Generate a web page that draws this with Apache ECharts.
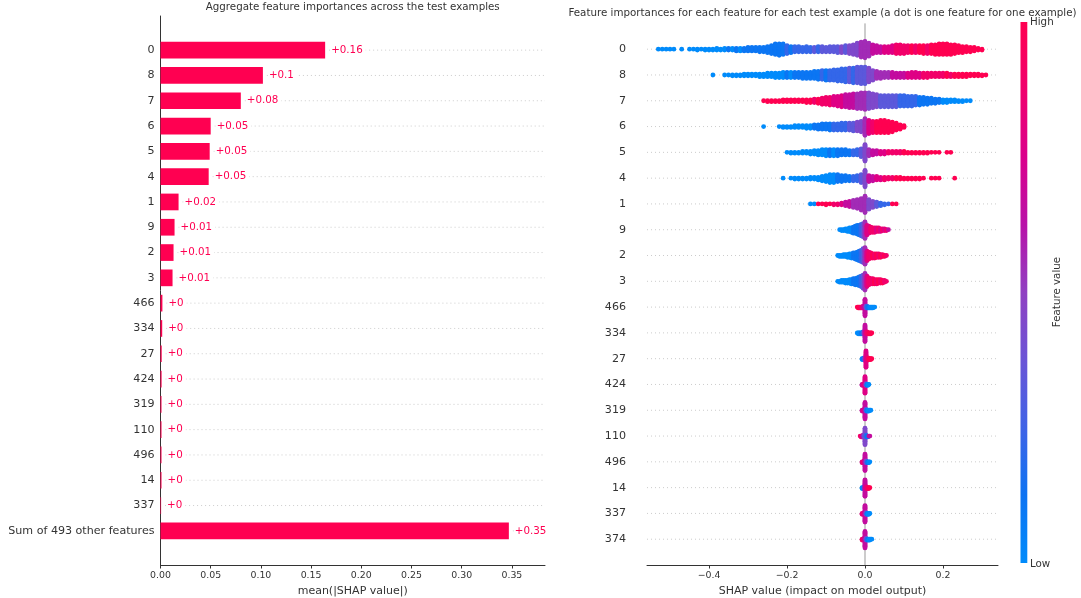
<!DOCTYPE html>
<html>
<head>
<meta charset="utf-8">
<script src="https://cdn.jsdelivr.net/npm/echarts@6/dist/echarts.min.js"></script>
<style>
  html, body { margin: 0; padding: 0; background: #fff; }
  #chart { width: 1081px; height: 598px; }
</style>
</head>
<body>
<div id="chart"></div>
<script>
// ---- left panel: mean(|SHAP value|) per feature ----
const barLabels = ['0', '8', '7', '6', '5', '4', '1', '9', '2', '3', '466', '334', '27', '424', '319', '110', '496', '14', '337', 'Sum of 493 other features'];
const barValues = [0.164, 0.102, 0.080, 0.050, 0.049, 0.048, 0.018, 0.014, 0.013, 0.012, 0.0019, 0.0017, 0.0012, 0.0011, 0.001, 0.001, 0.001, 0.001, 0.0006, 0.347];
const barTicks = [0, 0.05, 0.10, 0.15, 0.20, 0.25, 0.30, 0.35];

// ---- right panel: beeswarm, one row per feature ----
const swarmFeatures = ['0', '8', '7', '6', '5', '4', '1', '9', '2', '3', '466', '334', '27', '424', '319', '110', '496', '14', '337', '374'];
const swarmTicks = [-0.4, -0.2, 0, 0.2];
// SHAP value of the first bin and bin width, per row
const swarmStart = [-0.53, -0.39, -0.26, -0.26, -0.20, -0.21, -0.14, -0.065, -0.07, -0.07, -0.02, -0.02, -0.0075, -0.0075, -0.0075, -0.0125, -0.0075, -0.0075, -0.0075, -0.0075];
const swarmStep = [0.01, 0.01, 0.01, 0.01, 0.01, 0.01, 0.01, 0.005, 0.005, 0.005, 0.0025, 0.0025, 0.0025, 0.0025, 0.0025, 0.0025, 0.0025, 0.0025, 0.0025, 0.0025];

// dots per bin / feature value per bin (0 = low ... 9 = high)
const counts_0 = [1,1,1,1,1,0,1,0,1,1, 2,1,2,2,2,3,2,3,3,3, 4,4,4,5,5,5,6,6,8,10, 13,14,13,10,8,7,7,6,7,6, 6,7,7,6,7,7,8,8,9,10, 12,15,18,20,16,11,9,8,8,8, 9,11,11,10,9,9,9,9,10,10, 11,12,13,13,13,12,11,9,8,7, 6,5,3,2];
const colors_0 = [0,0,0,0,0,0,0,0,0,0, 0,0,0,0,0,0,0,0,1,0, 1,0,1,1,1,1,1,1,1,1, 1,1,1,2,1,2,2,2,2,2, 3,2,3,3,3,3,3,4,3,4, 4,4,5,5,5,6,6,6,7,7, 7,8,8,8,8,9,8,9,9,8, 9,9,9,9,9,9,9,9,9,9, 9,9,9,9];
const counts_8 = [1,0,0,1,1,2,2,2,3,3, 3,3,4,4,5,5,6,6,7,7, 7,7,7,8,8,8,9,10,11,12, 12,13,14,15,16,17,18,19,20,20, 17,12,9,8,7,7,7,6,6,6, 6,7,7,6,6,6,5,5,5,5, 5,4,4,4,4,4,3,3,3,2, 1];
const colors_8 = [0,0,0,0,0,0,0,0,0,0, 0,0,0,0,0,0,0,0,0,1, 0,1,1,1,1,1,1,1,2,1, 2,2,2,2,2,3,2,3,3,3, 4,4,5,5,5,5,6,6,6,6, 7,7,7,7,8,8,8,8,8,8, 9,8,9,9,9,9,9,9,9,9, 9];
const counts_7 = [1,2,2,2,2,3,3,3,3,3, 3,4,4,5,6,8,9,10,11,12, 14,15,16,17,18,19,20,19,17,15, 14,14,14,14,14,13,13,12,12,11, 10,9,8,7,6,5,4,4,3,3, 2,2,1,1];
const colors_7 = [9,9,9,9,9,9,9,9,9,9, 9,9,9,8,9,8,8,8,7,7, 7,6,6,6,5,5,5,4,4,4, 3,3,3,3,3,2,2,2,2,2, 1,1,1,1,1,1,0,0,0,0, 0,0,0,0];
const counts_6 = [1,0,0,0,1,2,2,2,3,3, 3,4,4,5,6,7,7,8,8,8, 9,9,9,10,11,13,20,16,14,14, 15,15,14,12,9,6,3];
const colors_6 = [0,0,0,0,0,0,0,0,0,0, 0,0,0,1,1,1,1,1,2,2, 2,2,3,3,4,4,5,7,8,9, 9,9,9,9,9,9,9];
const counts_5 = [1,2,2,2,3,3,4,5,6,7, 8,8,8,8,7,7,6,6,7,10, 20,8,6,5,4,4,3,3,3,3, 3,2,2,2,2,2,2,1,1,1, 0,1,1];
const colors_5 = [0,0,0,0,0,0,0,0,0,0, 0,1,0,1,1,1,1,2,2,3, 4,5,6,6,7,7,8,8,8,8, 9,9,9,9,9,9,9,9,9,9, 9,9,9];
const counts_4 = [1,0,1,2,2,2,2,3,3,4, 6,8,10,10,9,8,7,6,6,7, 10,20,8,6,5,4,4,3,3,3, 3,2,2,2,2,2,1,0,1,1, 1,0,0,0,1];
const colors_4 = [0,0,0,0,0,0,0,0,0,0, 0,0,0,0,1,1,1,1,2,2, 3,4,6,6,7,7,8,8,8,9, 9,9,9,9,9,9,9,9,9,9, 9,9,9,9,9];
const counts_1 = [1,1,1,1,2,1,2,2,3,5, 7,9,11,14,20,12,8,6,4,2, 1,1,1];
const colors_1 = [0,0,9,9,9,9,8,8,7,6, 6,5,5,5,5,4,4,3,2,2, 2,9,9];
const counts_9 = [1,2,2,3,4,5,6,8,9,11, 12,14,16,20,12,9,7,6,6,5, 5,4,3,3,2,1];
const colors_9 = [0,0,0,0,0,0,0,1,1,1, 1,2,3,5,7,7,8,8,8,7, 8,7,8,7,8,6];
const counts_2 = [1,2,2,3,3,4,5,6,7,8, 10,12,14,17,20,12,9,7,6,6, 5,5,4,3,2,1];
const colors_2 = [0,0,0,0,0,0,0,0,1,1, 1,1,2,3,5,7,8,8,9,8, 9,8,9,8,9,8];
const counts_3 = [1,2,3,3,4,4,5,6,7,8, 9,11,13,16,20,13,9,7,7,6, 6,5,5,4,3,1];
const colors_3 = [0,0,0,0,0,0,0,0,1,1, 1,1,2,3,5,7,8,8,8,9, 8,9,8,9,8,8];
const counts_466 = [1,2,2,2,2,2,3,3,20,3,3,2,2,2,2,2,2,1,1];
const colors_466 = [9,9,9,9,8,8,7,6,6,4,2,1,1,0,0,0,0,0,0];
const counts_334 = [1,2,2,2,2,2,3,3,20,3,3,2,2,2,2,1];
const colors_334 = [0,0,0,0,1,1,2,4,6,7,8,8,9,9,9,9];
const counts_27 = [2,2,3,3,20,3,3,2,2,2,1];
const colors_27 = [0,1,2,4,7,7,8,9,9,9,9];
const counts_424 = [2,2,3,20,3,2,2,1];
const colors_424 = [6,7,7,7,4,1,0,0];
const counts_319 = [2,2,3,20,3,2,2,2,1,1];
const colors_319 = [6,7,7,6,3,1,0,0,0,0];
const counts_110 = [1,2,2,3,3,20,3,2,2,1,1];
const colors_110 = [8,8,7,6,3,4,2,1,1,6,6];
const counts_496 = [2,2,3,20,3,2,2,2,1];
const colors_496 = [7,8,7,6,4,2,1,0,0];
const counts_14 = [2,2,3,20,3,2,2,2,1];
const colors_14 = [0,0,2,6,7,8,8,9,9];
const counts_337 = [2,2,3,20,3,2,2,2,1];
const colors_337 = [7,8,7,6,4,1,0,0,0];
const counts_374 = [2,2,3,20,3,2,2,2,2,1,1];
const colors_374 = [8,8,7,6,4,2,1,0,0,0,0];

const swarmCounts = [counts_0, counts_8, counts_7, counts_6, counts_5, counts_4, counts_1, counts_9, counts_2, counts_3,
  counts_466, counts_334, counts_27, counts_424, counts_319, counts_110, counts_496, counts_14, counts_337, counts_374];
const swarmColors = [colors_0, colors_8, colors_7, colors_6, colors_5, colors_4, colors_1, colors_9, colors_2, colors_3,
  colors_466, colors_334, colors_27, colors_424, colors_319, colors_110, colors_496, colors_14, colors_337, colors_374];

const RED = '#ff0051';
const FONT = 'DejaVu Sans';
const cmap = ['#008bfb', '#0d73f2', '#3f63e6', '#6a54d6', '#9040c2', '#b812a8', '#da008c', '#f0006d', '#ff0051'];

// stack the dots of each bin up and down around the row (shap's beeswarm layout)
const dots = [];
swarmCounts.forEach(function (cnt, r) {
  const maxYs = Math.ceil((Math.max.apply(null, cnt) - 1) / 2);
  const scale = 0.37 / (maxYs + 1);
  cnt.forEach(function (c, i) {
    const x = swarmStart[r] + i * swarmStep[r];
    for (let k = 0; k < c; k++) {
      const ys = Math.ceil(k / 2) * (k % 2 ? 1 : -1);
      dots.push([x, r + ys * scale, swarmColors[r][i]]);
    }
  });
});

const rowIdx = swarmFeatures.map(function (d, i) { return i; });

function fmtBar(v) {
  return '+' + parseFloat(v.toFixed(2));
}

const chart = echarts.init(document.getElementById('chart'), null, { renderer: 'canvas' });

const option = {
  animation: false,
  textStyle: { fontFamily: FONT },
  grid: [
    { left: 160.5, right: 536, top: 16, bottom: 33, containLabel: false, outerBoundsMode: 'none' },
    { left: 647, right: 83, top: 23.4, bottom: 33, containLabel: false, outerBoundsMode: 'none' }
  ],
  xAxis: [
    {
      gridIndex: 0, type: 'value', min: 0, max: 0.383,
      name: 'mean(|SHAP value|)', nameLocation: 'middle', nameGap: 17,
      nameTextStyle: { color: '#333', fontSize: 11, fontFamily: FONT },
      axisLine: { onZero: false, lineStyle: { color: '#333', width: 1 } },
      axisTick: { show: true, length: 3.5, customValues: barTicks, lineStyle: { color: '#333' } },
      axisLabel: { customValues: barTicks, color: '#333', fontSize: 9.4, margin: 6.5,
        formatter: function (v) { return v.toFixed(2); } },
      splitLine: { show: false }
    },
    {
      gridIndex: 1, type: 'value', min: -0.559, max: 0.341,
      name: 'SHAP value (impact on model output)', nameLocation: 'middle', nameGap: 17,
      nameTextStyle: { color: '#333', fontSize: 11, fontFamily: FONT },
      axisLine: { onZero: false, lineStyle: { color: '#333', width: 1 } },
      axisTick: { show: true, length: 3.5, customValues: swarmTicks, lineStyle: { color: '#333' } },
      axisLabel: { customValues: swarmTicks, color: '#333', fontSize: 9.4, margin: 6.5,
        formatter: function (v) { return (v < 0 ? '\u2212' : '') + Math.abs(v).toFixed(1); } },
      splitLine: { show: false }
    }
  ],
  yAxis: [
    {
      gridIndex: 0, type: 'value', inverse: true, min: -1.35, max: 20.35,
      axisLine: { show: true, onZero: false, lineStyle: { color: '#333', width: 1 } },
      axisTick: { show: false },
      axisLabel: { customValues: rowIdx, color: '#333', fontSize: 11.1, margin: 6,
        formatter: function (v) { return barLabels[v]; } },
      splitLine: { show: false }
    },
    {
      gridIndex: 1, type: 'value', inverse: true, min: -1, max: 20,
      axisLine: { show: false, onZero: false },
      axisTick: { show: false },
      axisLabel: { customValues: rowIdx, color: '#333', fontSize: 11.1, margin: 21,
        formatter: function (v) { return swarmFeatures[v]; } },
      splitLine: { show: false }
    }
  ],
  visualMap: {
    type: 'continuous', show: false, seriesIndex: 3, dimension: 2,
    min: 0, max: 9, inRange: { color: cmap }
  },
  series: [
    {
      // bars with dotted guide and value label
      type: 'custom', xAxisIndex: 0, yAxisIndex: 0, silent: true,
      data: barValues.map(function (v, i) { return [v, i]; }),
      renderItem: function (params, api) {
        const v = api.value(0), row = api.value(1);
        const p0 = api.coord([0, row]);
        const p1 = api.coord([v, row]);
        const h = Math.abs(api.size([0, 0.66])[1]);
        const right = params.coordSys.x + params.coordSys.width;
        return {
          type: 'group',
          children: [
            { type: 'line', shape: { x1: p1[0] + 4, y1: p0[1], x2: right, y2: p0[1] },
              style: { stroke: '#cccccc', lineWidth: 1, lineDash: [1, 3] } },
            { type: 'rect', shape: { x: p0[0], y: p0[1] - h / 2, width: Math.max(p1[0] - p0[0], 0.6), height: h },
              style: { fill: RED } },
            { type: 'text',
              style: { x: p1[0] + 5, y: p0[1], text: fmtBar(v), fill: RED, font: '10.3px ' + FONT,
                align: 'left', verticalAlign: 'middle', backgroundColor: '#fff', padding: [1, 3, 1, 1] } }
          ]
        };
      }
    },
    {
      // dotted row guides of the beeswarm
      type: 'custom', xAxisIndex: 1, yAxisIndex: 1, silent: true,
      data: rowIdx,
      renderItem: function (params, api) {
        const row = api.value(0);
        const y = api.coord([0, row])[1];
        const cs = params.coordSys;
        return { type: 'line', shape: { x1: cs.x, y1: y, x2: cs.x + cs.width, y2: y },
          style: { stroke: '#cccccc', lineWidth: 1, lineDash: [1, 3] } };
      }
    },
    {
      // zero line
      type: 'custom', xAxisIndex: 1, yAxisIndex: 1, silent: true,
      data: [[0]],
      renderItem: function (params, api) {
        const a = api.coord([0, -1]);
        const b = api.coord([0, 20]);
        return { type: 'line', shape: { x1: a[0], y1: a[1], x2: b[0], y2: b[1] },
          style: { stroke: '#999999', lineWidth: 1 } };
      }
    },
    {
      type: 'scatter', xAxisIndex: 1, yAxisIndex: 1, silent: true,
      symbolSize: 4.8,
      itemStyle: { opacity: 1 },
      data: dots
    }
  ],
  graphic: [
    { type: 'text', x: 352.7, y: 7, style: { text: 'Aggregate feature importances across the test examples',
      fill: '#333', font: '10.3px ' + FONT, align: 'center', verticalAlign: 'middle' } },
    { type: 'text', x: 822.5, y: 13.5, style: { text: 'Feature importances for each feature for each test example (a dot is one feature for one example)',
      fill: '#333', font: '10.3px ' + FONT, align: 'center', verticalAlign: 'middle' } },
    { type: 'rect', shape: { x: 1020.5, y: 22, width: 6.8, height: 541 },
      style: { fill: new echarts.graphic.LinearGradient(0, 1, 0, 0, cmap.map(function (c, i) {
        return { offset: i / (cmap.length - 1), color: c };
      })) } },
    { type: 'text', x: 1030, y: 22, style: { text: 'High', fill: '#333', font: '10.3px ' + FONT, align: 'left', verticalAlign: 'middle' } },
    { type: 'text', x: 1030, y: 564, style: { text: 'Low', fill: '#333', font: '10.3px ' + FONT, align: 'left', verticalAlign: 'middle' } },
    { type: 'text', x: 1057, y: 292, rotation: Math.PI / 2,
      style: { text: 'Feature value', fill: '#333', font: '10.3px ' + FONT, align: 'center', verticalAlign: 'middle' } }
  ]
};

chart.setOption(option);
</script>
</body>
</html>
